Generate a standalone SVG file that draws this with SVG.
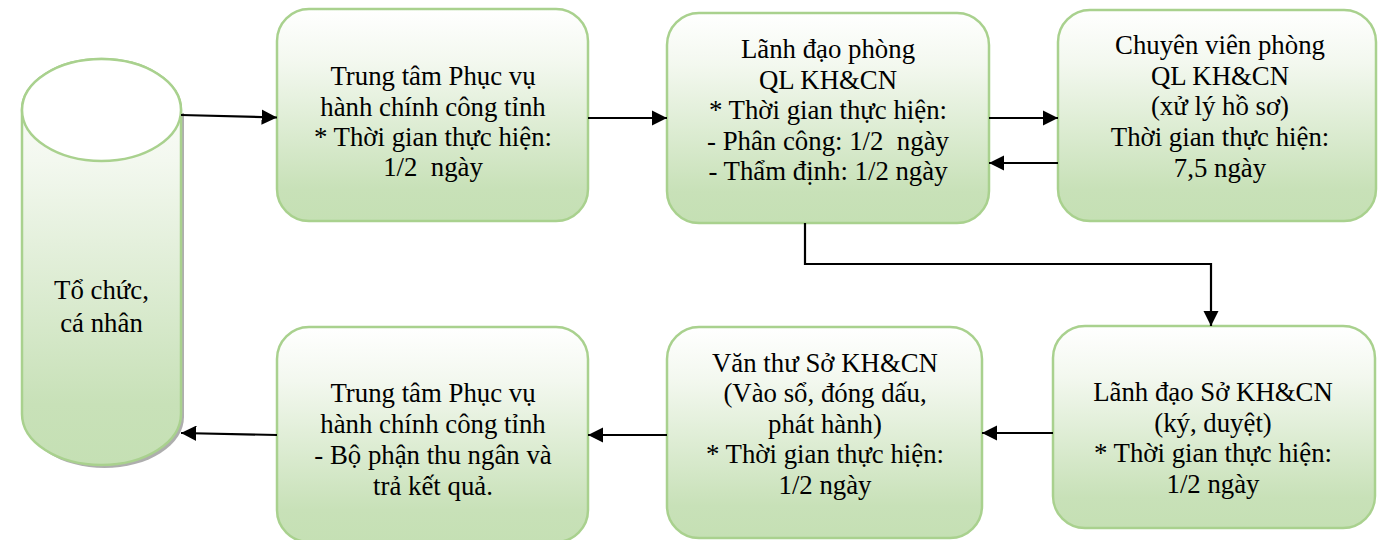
<svg xmlns="http://www.w3.org/2000/svg" width="1378" height="540" viewBox="0 0 1378 540">
<style>
.box{fill:url(#g);stroke:#a9d18e;stroke-width:2.5}
.c{fill:none;stroke:#000;stroke-width:2.2}
</style>
<defs>
<linearGradient id="g" x1="0" y1="0" x2="0" y2="1">
<stop offset="0" stop-color="#ffffff"/>
<stop offset="0.25" stop-color="#f3f8ef"/>
<stop offset="0.85" stop-color="#c8e1b8"/>
<stop offset="1" stop-color="#c5e0b4"/>
</linearGradient>
<marker id="a" viewBox="0 0 10 10" refX="10" refY="5" markerWidth="7" markerHeight="7" markerUnits="strokeWidth" orient="auto">
<path d="M0,0L10,5L0,10z" fill="#000"/>
</marker>
</defs>
<g font-family="Liberation Serif, Times New Roman, serif" font-size="26.8" fill="#000" text-anchor="middle">
<g id="cylinder">
<path d="M25,113 L25,417 A79.5,51 0 0 0 184,417 L184,113 Z" fill="#9a9a9a" opacity="0.8"/>
<path class="box" d="M22,110 L22,414 A79.5,51 0 0 0 181,414 L181,110 A79.5,51 0 0 0 22,110 Z"/>
<ellipse cx="101.5" cy="110" rx="79.5" ry="51" fill="#ffffff" stroke="#a9d18e" stroke-width="2.5"/>
<text x="101.5" y="299">Tổ chức,</text>
<text x="101.5" y="332">cá nhân</text>
</g>
<g id="box1">
<rect class="box" x="277" y="9" width="311" height="212" rx="32"/>
<text x="433" y="85">Trung tâm Phục vụ</text>
<text x="433" y="115.5">hành chính công tỉnh</text>
<text x="433" y="146">* Thời gian thực hiện:</text>
<text x="433" y="176" xml:space="preserve">1/2  ngày</text>
</g>
<g id="box2">
<rect class="box" x="667" y="13" width="322" height="210" rx="32"/>
<text x="828" y="58">Lãnh đạo phòng</text>
<text x="828" y="89">QL KH&amp;CN</text>
<text x="828" y="119">* Thời gian thực hiện:</text>
<text x="828" y="149.5" xml:space="preserve">- Phân công: 1/2  ngày</text>
<text x="828" y="180">- Thẩm định: 1/2 ngày</text>
</g>
<g id="box3">
<rect class="box" x="1058" y="10" width="318" height="211" rx="32"/>
<text x="1220" y="54">Chuyên viên phòng</text>
<text x="1220" y="85">QL KH&amp;CN</text>
<text x="1220" y="115">(xử lý hồ sơ)</text>
<text x="1220" y="146">Thời gian thực hiện:</text>
<text x="1220" y="177">7,5 ngày</text>
</g>
<g id="box4">
<rect class="box" x="1053" y="326" width="322" height="202" rx="32"/>
<text x="1213" y="401">Lãnh đạo Sở KH&amp;CN</text>
<text x="1213" y="432">(ký, duyệt)</text>
<text x="1213" y="462">* Thời gian thực hiện:</text>
<text x="1213" y="493">1/2 ngày</text>
</g>
<g id="box5">
<rect class="box" x="667" y="327" width="315" height="211" rx="32"/>
<text x="825" y="372">Văn thư Sở KH&amp;CN</text>
<text x="825" y="402">(Vào sổ, đóng dấu,</text>
<text x="825" y="433">phát hành)</text>
<text x="825" y="463">* Thời gian thực hiện:</text>
<text x="825" y="494">1/2 ngày</text>
</g>
<g id="box6">
<rect class="box" x="277" y="327" width="311" height="215" rx="32"/>
<text x="433" y="402">Trung tâm Phục vụ</text>
<text x="433" y="433">hành chính công tỉnh</text>
<text x="433" y="464">- Bộ phận thu ngân và</text>
<text x="433" y="495">trả kết quả.</text>
</g>
</g>
<g id="connectors">
<path class="c" d="M181,115 L277,117.5" marker-end="url(#a)"/>
<path class="c" d="M588,118 L667,118" marker-end="url(#a)"/>
<path class="c" d="M989,118 L1058,118" marker-end="url(#a)"/>
<path class="c" d="M1058,163 L989,163" marker-end="url(#a)"/>
<path class="c" d="M805,223 L805,264 L1211,264 L1211,326" marker-end="url(#a)"/>
<path class="c" d="M1053,433 L982,433" marker-end="url(#a)"/>
<path class="c" d="M667,435 L588,435" marker-end="url(#a)"/>
<path class="c" d="M277,435 L181,433" marker-end="url(#a)"/>
</g>
</svg>
